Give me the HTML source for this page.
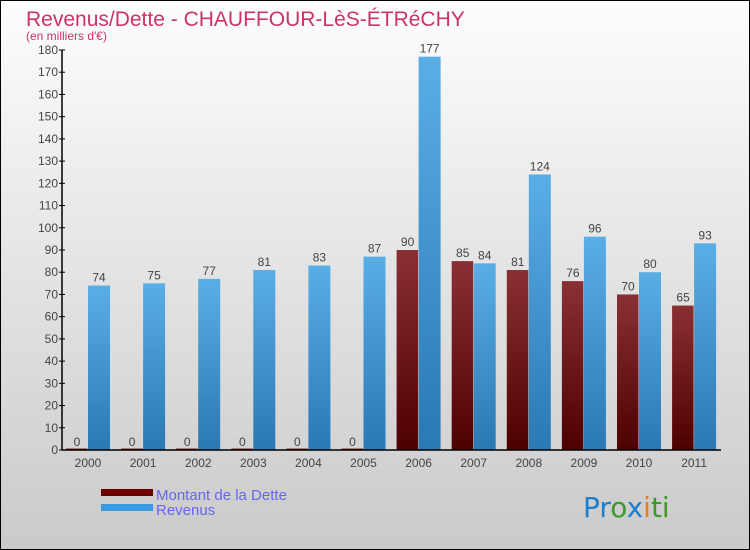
<!DOCTYPE html>
<html><head><meta charset="utf-8"><style>
body{margin:0;}
#c{width:748px;height:548px;border:1px solid #000;background:linear-gradient(#fdfdfd,#cacaca);position:relative;font-family:"Liberation Sans",sans-serif;overflow:hidden}
</style></head><body>
<div id="c">
<svg id="s" width="748" height="548" xmlns="http://www.w3.org/2000/svg">
<defs>
<linearGradient id="gb" x1="0" y1="0" x2="0" y2="1"><stop offset="0" stop-color="#5aaee6"/><stop offset="1" stop-color="#2a78b4"/></linearGradient>
<linearGradient id="gr" x1="0" y1="0" x2="0" y2="1"><stop offset="0" stop-color="#8a3034"/><stop offset="1" stop-color="#4e0000"/></linearGradient>
</defs>
<text x="25" y="25" font-size="21" fill="#cc3366">Revenus/Dette - CHAUFFOUR-LèS-ÉTRéCHY</text>
<text x="25" y="39" font-size="12" fill="#cc3366">(en milliers d'€)</text>
<g id="plot"></g>
<rect x="100" y="488" width="52" height="7" fill="#6a0000"/>
<rect x="100" y="503" width="52" height="7" fill="#3a9ae0"/>
<text x="155" y="499" font-size="15" fill="#6666ee">Montant de la Dette</text>
<text x="155" y="514" font-size="15" fill="#6666ee">Revenus</text>
<text x="582" y="516" font-size="28" font-family="DejaVu Sans"><tspan fill="#1b7fd0">Pr</tspan><tspan fill="#3a9a2a">o</tspan><tspan fill="#1b7fd0">x</tspan><tspan fill="#ee7a10">i</tspan><tspan fill="#3a9a2a">ti</tspan></text>
</svg>
</div>
<script>
const years=["2000","2001","2002","2003","2004","2005","2006","2007","2008","2009","2010","2011"];
const debt=[0,0,0,0,0,0,90,85,81,76,70,65];
const revenue=[74,75,77,81,83,87,177,84,124,96,80,93];
const yTicks=[0,10,20,30,40,50,60,70,80,90,100,110,120,130,140,150,160,170,180];
const NS="http://www.w3.org/2000/svg";
const g=document.getElementById("plot");
const y0=449,yTop=49,ymax=180,x0=61,xEnd=720,step=55.1,first=87;
const Y=v=>y0-(v/ymax)*(y0-yTop);
const X=i=>first+i*step;
function mk(t,a){const e=document.createElementNS(NS,t);for(const k in a)e.setAttribute(k,a[k]);g.appendChild(e);return e;}
years.forEach((yr,i)=>{
  const cx=X(i);
  const dh=Math.max(y0-Y(debt[i]),1.5);
  const d=mk("rect",{x:cx-22,y:y0-dh,width:21.5,height:dh,fill:"url(#gr)"});
  
  
  const r=mk("rect",{x:cx,y:Y(revenue[i]),width:22,height:y0-Y(revenue[i]),fill:"url(#gb)"});
  
  
  const dl=mk("text",{x:cx-11,y:Y(debt[i])-4,"font-size":12,fill:"#444","text-anchor":"middle"});dl.textContent=debt[i];
  
  
  const rl=mk("text",{x:cx+11,y:Y(revenue[i])-4,"font-size":12,fill:"#444","text-anchor":"middle"});rl.textContent=revenue[i];
  
  
  const xl=mk("text",{x:cx,y:466,"font-size":12,fill:"#444","text-anchor":"middle"});xl.textContent=yr;
  
  
});
yTicks.forEach(v=>{
  const t=mk("line",{x1:x0-3,x2:x0+3,y1:Y(v),y2:Y(v),stroke:"#000"});
  
  
  const l=mk("text",{x:x0-4,y:Y(v)+4,"font-size":12,fill:"#444","text-anchor":"end"});l.textContent=v;
  
  
});
const ya=mk("line",{x1:x0,x2:x0,y1:yTop,y2:y0,stroke:"#000","stroke-width":1.5});


const xa=mk("line",{x1:x0,x2:xEnd,y1:y0,y2:y0,stroke:"#000","stroke-width":1.5});


</script>
</body></html>
